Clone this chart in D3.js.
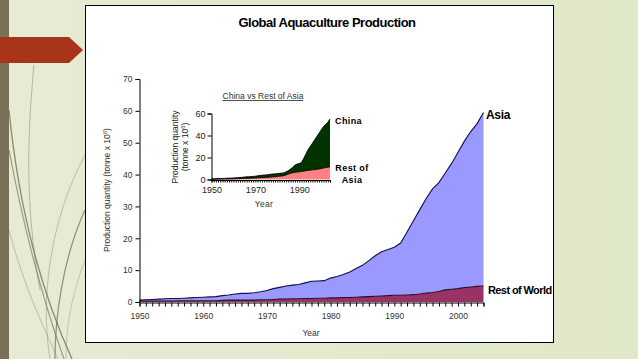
<!DOCTYPE html>
<html><head><meta charset="utf-8">
<script src="https://cdn.jsdelivr.net/npm/d3@7"></script>
<style>
html,body{margin:0;padding:0;background:#e3e9cf;}
svg{display:block;font-family:"Liberation Sans",Arial,sans-serif;}
</style></head>
<body>
<svg id="c" width="638" height="359"></svg>
<script>
// ---- Data ----
const years = d3.range(1950, 2005);
// Main chart: total (Asia + Rest of World) and Rest of World, million tonnes
const worldTotal = [0.6,0.7,0.8,0.9,1.0,1.1,1.1,1.2,1.3,1.4,1.5,1.6,1.7,2.0,2.2,2.5,2.7,2.7,2.9,3.2,
  3.6,4.2,4.6,5.0,5.3,5.5,6.0,6.5,6.6,6.7,7.5,8.0,8.6,9.4,10.5,11.5,13.0,14.5,15.8,16.5,
  17.2,18.5,22.0,25.5,29.0,32.5,35.5,37.5,40.5,43.5,47.0,50.5,53.5,56.0,59.5];
const restOfWorld = [0.3,0.3,0.3,0.3,0.3,0.3,0.4,0.4,0.4,0.4,0.4,0.4,0.4,0.5,0.6,0.6,0.6,0.6,0.6,0.7,
  0.7,0.8,0.9,0.9,1.0,1.0,1.1,1.1,1.2,1.2,1.3,1.3,1.4,1.4,1.5,1.6,1.7,1.8,1.9,2.0,
  2.1,2.1,2.2,2.3,2.5,2.8,3.0,3.3,3.8,4.0,4.2,4.5,4.7,4.9,5.0];
const asia = worldTotal.map((t,i)=>+(t-restOfWorld[i]).toFixed(2));
// Inset: China vs Rest of Asia
const asiaTop = [0.5,0.6,0.7,0.8,0.8,0.9,1.0,1.1,1.2,1.3,1.4,1.5,1.6,1.8,2.0,2.2,2.4,2.5,2.6,2.8,
  3.0,3.3,3.6,3.9,4.0,4.2,4.5,4.8,5.0,5.1,5.4,5.6,5.8,6.0,7.0,8.0,9.5,11.0,13.0,14.0,
  14.5,15.5,19.0,23.0,27.0,30.0,33.0,36.0,39.0,42.0,45.0,48.0,50.0,52.0,55.0];
const restOfAsia = [0.3,0.3,0.3,0.4,0.4,0.4,0.5,0.5,0.5,0.6,0.6,0.7,0.7,0.8,0.9,1.0,1.0,1.1,1.2,1.3,
  1.4,1.5,1.6,1.7,1.8,1.9,2.0,2.2,2.4,2.6,2.8,3.0,3.2,3.5,4.2,5.0,5.6,6.2,6.5,6.8,
  7.0,7.3,7.6,8.0,8.3,8.5,8.8,9.0,9.3,9.6,10.0,10.4,10.8,11.2,11.6];
const china = asiaTop.map((t,i)=>+(t-restOfAsia[i]).toFixed(2));
const mainYTicks = [0,10,20,30,40,50,60,70];
const mainXTicks = [1950,1960,1970,1980,1990,2000];
const insetYTicks = [0,20,40,60];
const insetXTicks = [1950,1970,1990];

const svg = d3.select("#c");

// ---- Slide background ----
const defs = svg.append("defs");
const g1 = defs.append("linearGradient").attr("id","bg").attr("x1","0").attr("x2","1").attr("y1","0").attr("y2","0");
g1.append("stop").attr("offset","0").attr("stop-color","#e6ebd3");
g1.append("stop").attr("offset","1").attr("stop-color","#dfe8c8");
svg.append("rect").attr("width",638).attr("height",359).attr("fill","url(#bg)");
// decorative curves
const curves = [
  {d:"M34,65 C28,130 24,200 40,290", o:0.5, w:0.8},
  {d:"M9,110 C20,220 45,300 72,359", o:0.75, w:1.3},
  {d:"M9,150 C28,250 50,320 64,359", o:0.6, w:1.2},
  {d:"M9,230 C25,290 45,330 58,359", o:0.35, w:1.0},
  {d:"M85,155 C50,220 40,300 50,359", o:0.35, w:1.0},
  {d:"M85,210 C62,260 55,320 55,359", o:0.7, w:1.2},
  {d:"M85,260 C70,300 66,330 66,359", o:0.3, w:1.0}
];
svg.selectAll("path.deco").data(curves).enter().append("path")
  .attr("d",d=>d.d).attr("fill","none").attr("stroke","#6e6650").attr("stroke-opacity",d=>d.o).attr("stroke-width",d=>d.w);
svg.append("rect").attr("x",0).attr("y",0).attr("width",9).attr("height",359).attr("fill","#7a7058");
svg.append("path").attr("d","M0,37 L69,37 L83,50 L69,63 L0,63 Z").attr("fill","#a8341a");

// ---- Chart frame ----
svg.append("rect").attr("x",85.5).attr("y",5.5).attr("width",468).attr("height",337)
  .attr("fill","#ffffff").attr("stroke","#000").attr("stroke-width",1);

svg.append("text").attr("x",327).attr("y",27).attr("text-anchor","middle")
  .attr("font-size",13).attr("font-weight","bold").attr("letter-spacing",-0.5).text("Global Aquaculture Production");

// ---- Main chart ----
const x = d3.scaleLinear().domain([1950,2004]).range([139.5,483.5]);
const y = d3.scaleLinear().domain([0,70]).range([302,79]);
const rows = years.map((yr,i)=>({year:yr, rest:restOfWorld[i], asia:asia[i]}));
const stack = d3.stack().keys(["rest","asia"])(rows);
const area = d3.area().x(d=>x(d.data.year)).y0(d=>y(d[0])).y1(d=>y(d[1]));
const topLine = d3.line().x(d=>x(d.data.year)).y(d=>y(d[1]));
const fills = {rest:"#993366", asia:"#9999ff"};
const strokes = {rest:"#2a0f22", asia:"#10104a"};
svg.selectAll("path.layer").data(stack).enter().append("path")
  .attr("d",area).attr("fill",d=>fills[d.key]);
svg.selectAll("path.top").data(stack).enter().append("path")
  .attr("d",topLine).attr("fill","none").attr("stroke",d=>strokes[d.key]).attr("stroke-width",1.1);

const yAxis = svg.append("g").attr("transform","translate(139.5,0)")
  .call(d3.axisLeft(y).tickValues(mainYTicks).tickSize(4).tickPadding(3));
const xAxis = svg.append("g").attr("transform","translate(0,302.5)")
  .call(d3.axisBottom(x).tickValues(years).tickSize(4).tickPadding(6).tickFormat(d=>mainXTicks.includes(d)?d:""));
[yAxis,xAxis].forEach(a=>{
  a.select(".domain").attr("stroke","#000");
  a.selectAll(".tick line").attr("stroke","#000");
  a.selectAll("text").attr("font-size",8.5).attr("fill","#333").attr("font-family","Liberation Sans, Arial, sans-serif");
});
svg.append("text").attr("x",311).attr("y",336).attr("text-anchor","middle")
  .attr("font-size",8.5).attr("fill","#333").text("Year");
const yl = svg.append("text").attr("transform","translate(110,190) rotate(-90)").attr("text-anchor","middle")
  .attr("font-size",8.5).attr("fill","#333");
yl.append("tspan").text("Production quantity  (tonne x 10");
yl.append("tspan").attr("dy",-3).attr("font-size",6).text("6");
yl.append("tspan").attr("dy",3).text(")");

svg.append("text").attr("x",486).attr("y",119).attr("font-size",12).attr("font-weight","bold").attr("letter-spacing",-0.3).text("Asia");
svg.append("text").attr("x",488).attr("y",294).attr("font-size",11).attr("font-weight","bold").attr("letter-spacing",-0.6).text("Rest of World");

// ---- Inset chart ----
const xi = d3.scaleLinear().domain([1950,2004]).range([211.5,330]);
const yi = d3.scaleLinear().domain([0,60]).range([179.5,113.5]);
const rowsI = years.map((yr,i)=>({year:yr, rest:restOfAsia[i], china:china[i]}));
const stackI = d3.stack().keys(["rest","china"])(rowsI);
const areaI = d3.area().x(d=>xi(d.data.year)).y0(d=>yi(d[0])).y1(d=>yi(d[1]));
const lineI = d3.line().x(d=>xi(d.data.year)).y(d=>yi(d[1]));
const fillsI = {rest:"#ff8080", china:"#003300"};
svg.selectAll("path.ilayer").data(stackI).enter().append("path")
  .attr("d",areaI).attr("fill",d=>fillsI[d.key]);
svg.selectAll("path.itop").data(stackI).enter().append("path")
  .attr("d",lineI).attr("fill","none").attr("stroke","#000").attr("stroke-width",0.9);

const yAxisI = svg.append("g").attr("transform","translate(211.5,0)")
  .call(d3.axisLeft(yi).tickValues(insetYTicks).tickSize(4).tickPadding(2));
const xAxisI = svg.append("g").attr("transform","translate(0,180)")
  .call(d3.axisBottom(xi).tickValues(years).tickSize(2.5).tickPadding(4).tickFormat(d=>insetXTicks.includes(d)?d:""));
[yAxisI,xAxisI].forEach(a=>{
  a.select(".domain").attr("stroke","#000");
  a.selectAll(".tick line").attr("stroke","#000");
  a.selectAll("text").attr("font-size",9).attr("fill","#222").attr("font-family","Liberation Sans, Arial, sans-serif");
});
svg.append("text").attr("x",263).attr("y",99).attr("text-anchor","middle")
  .attr("font-size",8.5).attr("fill","#333").attr("text-decoration","underline").text("China vs Rest of Asia");
svg.append("text").attr("x",264).attr("y",207).attr("text-anchor","middle")
  .attr("font-size",8.5).attr("fill","#333").attr("letter-spacing",0.3).text("Year");
svg.append("text").attr("transform","translate(178,147) rotate(-90)").attr("text-anchor","middle")
  .attr("font-size",8.5).attr("fill","#222").text("Production quantity");
const yl2 = svg.append("text").attr("transform","translate(188,147) rotate(-90)").attr("text-anchor","middle")
  .attr("font-size",8.5).attr("fill","#222");
yl2.append("tspan").text("(tonne x 10");
yl2.append("tspan").attr("dy",-3).attr("font-size",6).text("6");
yl2.append("tspan").attr("dy",3).text(")");

svg.append("text").attr("x",335).attr("y",124).attr("font-size",9).attr("font-weight","bold").attr("letter-spacing",0.4).text("China");
svg.append("text").attr("x",352).attr("y",171).attr("text-anchor","middle").attr("font-size",9).attr("font-weight","bold").attr("letter-spacing",0.4).text("Rest of");
svg.append("text").attr("x",352).attr("y",183).attr("text-anchor","middle").attr("font-size",9).attr("font-weight","bold").attr("letter-spacing",0.4).text("Asia");
</script>
</body></html>
